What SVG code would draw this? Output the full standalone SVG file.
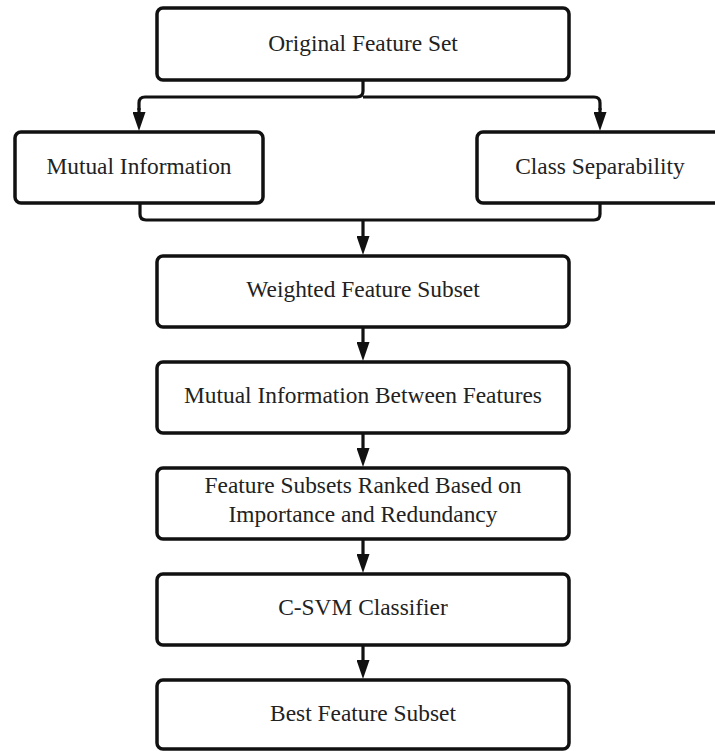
<svg xmlns="http://www.w3.org/2000/svg" width="715" height="751" viewBox="0 0 715 751">
  <style>
    .box { fill: #ffffff; stroke: #111111; stroke-width: 3.5; }
    .lbl { font-family: "Liberation Serif", "Times New Roman", serif; font-size: 23.4px; fill: #222222; text-anchor: middle; }
    .wire { fill: none; stroke: #111111; stroke-width: 3.2; stroke-linejoin: round; }
    .arr { fill: none; stroke: #111111; stroke-width: 3.2; marker-end: url(#ah); }
  </style>
  <defs>
    <marker id="ah" viewBox="0 0 19 13" refX="11" refY="6.5" markerWidth="19" markerHeight="13" markerUnits="userSpaceOnUse" orient="auto">
      <path d="M0,0 L19,6.5 L0,13 z" fill="#111111"/>
    </marker>
  </defs>
  <rect width="715" height="751" fill="#ffffff"/>

  <g id="connectors">
    <path class="wire" d="M363,80 V91 Q363,97 357,97 H145 Q139,97 139,103 V110"/>
    <path class="wire" d="M363,97 H594 Q600,97 600,103 V110"/>
    <path class="arr" d="M139,108 V123"/>
    <path class="arr" d="M600,108 V123"/>
    <path class="wire" d="M140,203 V214 Q140,220 146,220 H594 Q600,220 600,214 V203"/>
    <path class="arr" d="M363,220 V247"/>
    <path class="arr" d="M363,327 V353"/>
    <path class="arr" d="M363,433 V459"/>
    <path class="arr" d="M363,539 V565"/>
    <path class="arr" d="M363,645 V671"/>
  </g>

  <g id="n-original">
    <rect class="box" x="157" y="8" width="412" height="72" rx="6"/>
    <text class="lbl" x="363" y="51">Original Feature Set</text>
  </g>
  <g id="n-mutual">
    <rect class="box" x="15" y="132" width="248" height="71" rx="6"/>
    <text class="lbl" x="139" y="174">Mutual Information</text>
  </g>
  <g id="n-class">
    <rect class="box" x="477" y="132" width="248" height="71" rx="6"/>
    <text class="lbl" x="600" y="174">Class Separability</text>
  </g>
  <g id="n-weighted">
    <rect class="box" x="157" y="256" width="412" height="71" rx="6"/>
    <text class="lbl" x="363" y="297">Weighted Feature Subset</text>
  </g>
  <g id="n-mibetween">
    <rect class="box" x="157" y="362" width="412" height="71" rx="6"/>
    <text class="lbl" x="363" y="403">Mutual Information Between Features</text>
  </g>
  <g id="n-ranked">
    <rect class="box" x="157" y="468" width="412" height="71" rx="6"/>
    <text class="lbl" x="363" y="493">Feature Subsets Ranked Based on</text>
    <text class="lbl" x="363" y="522">Importance and Redundancy</text>
  </g>
  <g id="n-csvm">
    <rect class="box" x="157" y="574" width="412" height="71" rx="6"/>
    <text class="lbl" x="363" y="615">C-SVM Classifier</text>
  </g>
  <g id="n-best">
    <rect class="box" x="157" y="680" width="412" height="69" rx="6"/>
    <text class="lbl" x="363" y="721">Best Feature Subset</text>
  </g>
</svg>
